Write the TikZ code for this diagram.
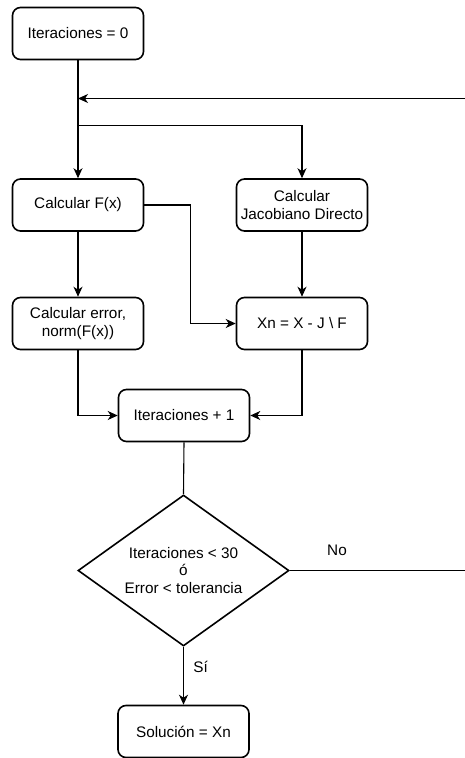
\documentclass[tikz,border=0pt]{standalone}
\usepackage{fontspec}
\setmainfont{Liberation Sans}
\usetikzlibrary{shapes.geometric,arrows.meta}

\begin{document}
\begin{tikzpicture}[x=1pt,y=-1pt,
  proc/.style={draw, line width=1.6pt, rounded corners=8pt,
    minimum width=131pt, minimum height=52pt, inner sep=1pt,
    align=center, font=\fontsize{15.3}{17.5}\selectfont},
  decision/.style={draw, diamond, aspect=1.4, line width=1.6pt, inner sep=0pt,
    minimum width=211pt, minimum height=151pt,
    align=center, font=\fontsize{15.3}{17.5}\selectfont},
  link/.style={line width=1.1pt},
  flow/.style={link, -{Stealth[length=10pt,width=9pt,inset=3pt]}},
  lbl/.style={font=\fontsize{15.3}{17.5}\selectfont}]
\useasboundingbox (0,0) rectangle (465,758);

% process boxes
\node[proc] (init)  at (78,33.5)   {Iteraciones = 0};
\node[proc] (fx)    at (78,205)    {Calcular F(x)};
\node[proc] (jac)   at (302,205)   {Calcular\\Jacobiano Directo};
\node[proc] (err)   at (78,323.5)  {Calcular error,\\norm(F(x))};
\node[proc] (xn)    at (302,323.5) {Xn = X - J \textbackslash{} F};
\node[proc] (inc)   at (184,415.5) {Iteraciones + 1};
\node[decision] (test) at (183.5,570.5) {Iteraciones < 30\\ó\\Error < tolerancia};
\node[proc] (sol)   at (183.5,731.5) {Solución = Xn};

% helper points of the loop
\coordinate (loopin)  at (465,98.5);
\coordinate (loopout) at (465,570.5);
\coordinate (split)   at (78,125.5);

% main flow
\draw[flow] (init.south) -- (fx.north);
\draw[flow] (split) -- (split -| jac.north) -- (jac.north);
\draw[flow] (loopin) -- (loopin -| init.south);
\draw[flow] (fx.east) -- ++(46,0) |- (xn.west);
\draw[flow] (fx.south) -- (err.north);
\draw[flow] (jac.south) -- (xn.north);
\draw[flow] (err.south) |- (inc.west);
\draw[flow] (xn.south) |- (inc.east);
\draw[link] (inc.south) -- (test.north);
\draw[flow] (test.south) -- node[lbl, right, xshift=6pt, pos=0.35] {Sí} (sol.north);
\draw[link] (test.east) -- (loopout);

\node[lbl] (no) at (337,550) {No};
\end{tikzpicture}
\end{document}
